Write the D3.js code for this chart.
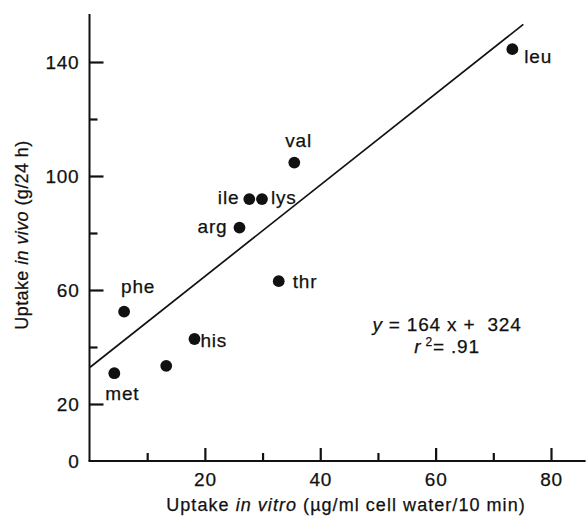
<!DOCTYPE html>
<html>
<head>
<meta charset="utf-8">
<script src="https://cdn.jsdelivr.net/npm/d3@7"></script>
<style>
  html, body { margin: 0; padding: 0; background: #fff; }
  svg text { font-family: "Liberation Sans", Arial, Helvetica, sans-serif; fill: #111; stroke: #111; stroke-width: 0.25px; letter-spacing: 0.8px; }
</style>
</head>
<body>
<svg id="chart" width="586" height="521"></svg>
<script>
// ---- data ----
const aminoAcids    = ["met", "phe", "", "his", "thr", "arg", "ile", "lys", "val", "leu"];
const uptakeInVitro = [4.3, 6.0, 13.3, 18.2, 32.8, 26.0, 27.7, 29.9, 35.5, 73.3];
const uptakeInVivo  = [30.8, 52.4, 33.4, 42.8, 63.1, 81.9, 91.9, 91.9, 104.7, 144.5];
const fitLineX = [0.1, 75.2];
const fitLineY = [32.9, 153.2];
const xMajorTicks = [20, 40, 60, 80];
const xMinorTicks = [10, 30, 50, 70];
const yMajorTicks = [20, 60, 100, 140];
const yMinorTicks = [40, 80, 120];
const yTickLabels = [0, 20, 60, 100, 140];

// ---- layout (label placement relative to each point) ----
const labelPlace = {
  met: { dx: -9, dy: 27, anchor: "start" },
  phe: { dx: -3, dy: -19, anchor: "start" },
  his: { dx: 6, dy: 8, anchor: "start" },
  thr: { dx: 14, dy: 7, anchor: "start" },
  arg: { dx: -12, dy: 5, anchor: "end" },
  ile: { dx: -10, dy: 5, anchor: "end" },
  lys: { dx: 9, dy: 5, anchor: "start" },
  val: { dx: -9, dy: -16, anchor: "start" },
  leu: { dx: 12, dy: 14, anchor: "start" }
};

const svg = d3.select("#chart");
const x = d3.scaleLinear().domain([0, 80]).range([89.5, 551]);
const y = d3.scaleLinear().domain([0, 140]).range([461, 62]);
const xMaxShown = 86, yMaxShown = 156.8;

// axes lines
svg.append("line").attr("x1", x(0) - 1).attr("x2", x(xMaxShown))
  .attr("y1", y(0)).attr("y2", y(0)).attr("stroke", "#111").attr("stroke-width", 2);
svg.append("line").attr("x1", x(0)).attr("x2", x(0))
  .attr("y1", y(0)).attr("y2", y(yMaxShown)).attr("stroke", "#111").attr("stroke-width", 2);

// x axis ticks
const gx = svg.append("g").attr("transform", `translate(0,${y(0)})`)
  .call(d3.axisBottom(x).tickValues(xMajorTicks).tickSize(-13).tickSizeOuter(0).tickPadding(12));
const gx2 = svg.append("g").attr("transform", `translate(0,${y(0)})`)
  .call(d3.axisBottom(x).tickValues(xMinorTicks).tickSize(-8).tickSizeOuter(0).tickFormat(""));
// y axis ticks
const gy = svg.append("g").attr("transform", `translate(${x(0)},0)`)
  .call(d3.axisLeft(y).tickValues(yTickLabels).tickSize(-14).tickSizeOuter(0).tickPadding(10));
gy.selectAll(".tick").filter(d => !yMajorTicks.includes(d)).select("line").remove();
const gy2 = svg.append("g").attr("transform", `translate(${x(0)},0)`)
  .call(d3.axisLeft(y).tickValues(yMinorTicks).tickSize(-8).tickSizeOuter(0).tickFormat(""));

[gx, gx2, gy, gy2].forEach(g => {
  g.select(".domain").remove();
  g.selectAll(".tick line").attr("stroke", "#111").attr("stroke-width", 2.2);
  g.selectAll(".tick text").attr("font-size", 19).attr("fill", "#111")
    .attr("font-family", "Liberation Sans, Arial, sans-serif");
});

// regression line
svg.append("line")
  .attr("x1", x(fitLineX[0])).attr("y1", y(fitLineY[0]))
  .attr("x2", x(fitLineX[1])).attr("y2", y(fitLineY[1]))
  .attr("stroke", "#111").attr("stroke-width", 1.7);

// points
const pts = aminoAcids.map((n, i) => ({ name: n, vx: uptakeInVitro[i], vy: uptakeInVivo[i] }));
svg.append("g").selectAll("circle").data(pts).join("circle")
  .attr("cx", d => x(d.vx)).attr("cy", d => y(d.vy)).attr("r", 5.9).attr("fill", "#111");

svg.append("g").selectAll("text").data(pts.filter(d => d.name)).join("text")
  .attr("x", d => x(d.vx) + labelPlace[d.name].dx)
  .attr("y", d => y(d.vy) + labelPlace[d.name].dy)
  .attr("text-anchor", d => labelPlace[d.name].anchor)
  .attr("font-size", 19)
  .text(d => d.name);

// equation
const eq = svg.append("text").attr("x", 447).attr("y", 331).attr("text-anchor", "middle").attr("font-size", 19);
eq.append("tspan").attr("font-style", "italic").text("y");
eq.append("tspan").text(" = 164 x +\u00a0 324");
const r2 = svg.append("text").attr("x", 447).attr("y", 353).attr("text-anchor", "middle").attr("font-size", 19);
r2.append("tspan").attr("font-style", "italic").text("r");
r2.append("tspan").attr("font-size", 12).attr("dy", -7).text(" 2");
r2.append("tspan").attr("dy", 7).text("= .91");

// axis titles
const xt = svg.append("text").attr("x", 346).attr("y", 511).attr("text-anchor", "middle")
  .attr("font-size", 18).style("letter-spacing", "1.05px");
xt.append("tspan").text("Uptake ");
xt.append("tspan").attr("font-style", "italic").text("in vitro");
xt.append("tspan").text(" (\u00b5g/ml cell water/10 min)");

const yt = svg.append("text").attr("transform", "translate(28,235) rotate(-90)")
  .attr("text-anchor", "middle").attr("font-size", 18).style("letter-spacing", "0.4px");
yt.append("tspan").text("Uptake ");
yt.append("tspan").attr("font-style", "italic").text("in vivo");
yt.append("tspan").text(" (g/24 h)");
</script>
</body>
</html>
